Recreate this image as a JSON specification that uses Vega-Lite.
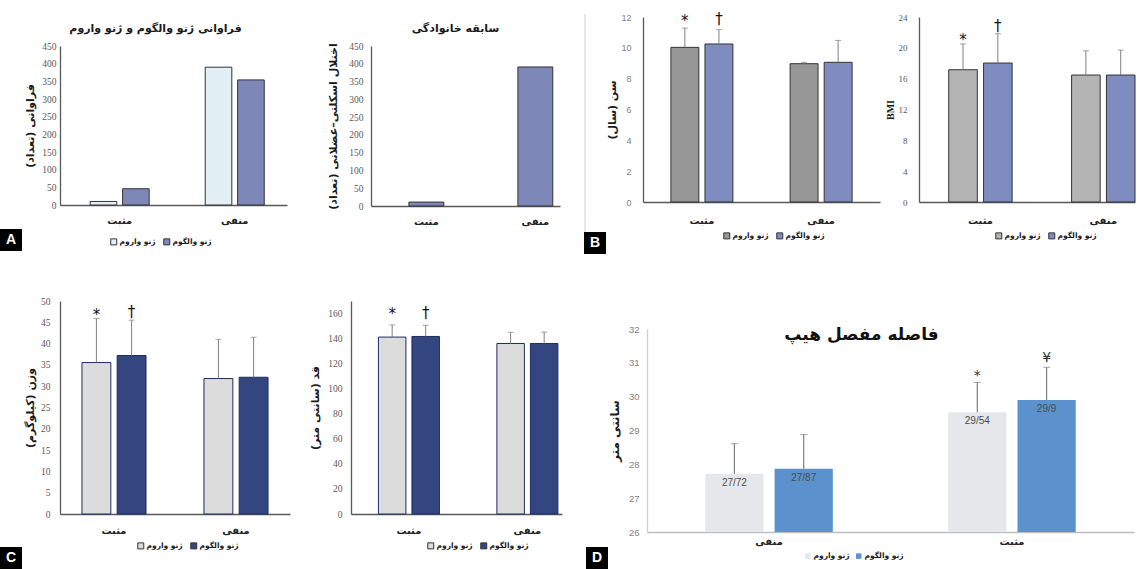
{
"$schema": "https://vega.github.io/schema/vega-lite/v6.json",
"padding": {"left": 0, "top": 12, "right": 0, "bottom": 0},
"background": "white",
"spacing": 42,
"align": "none",
"resolve": {"scale": {"color": "independent", "xOffset": "independent"}, "legend": {"color": "independent"}},
"config": {
  "view": {"stroke": null},
  "font": "DejaVu Sans",
  "axis": {"grid": false, "ticks": false, "domainColor": "#595959", "domainWidth": 1.3, "labelColor": "#595959", "titleColor": "#1a1a1a", "titleFont": "DejaVu Sans", "titleFontWeight": "bold", "titleFontSize": 11},
  "axisX": {"labelAngle": 0, "labelFont": "DejaVu Sans", "labelFontWeight": "bold", "labelFontSize": 10, "labelColor": "#222222"},
  "legend": {"labelFont": "DejaVu Sans", "labelFontWeight": "bold", "labelFontSize": 7.5, "labelColor": "#1a1a1a", "symbolType": "square", "symbolSize": 36, "symbolStrokeColor": "#333333", "symbolStrokeWidth": 1, "columnPadding": 5, "labelOffset": 2, "padding": 0}
},
"vconcat": [
 {"spacing": 24, "align": "none", "resolve": {"scale": {"color": "independent", "xOffset": "independent"}, "legend": {"color": "independent"}}, "hconcat": [
  {"spacing": 5, "align": "none", "resolve": {"scale": {"color": "independent", "xOffset": "independent"}, "legend": {"color": "independent"}}, "vconcat": [
   {"width": 1, "height": 1, "data": {"values": [{"a": 1}]}, "mark": {"type": "point", "opacity": 0, "size": 1}},
   {"spacing": 40, "align": "none", "resolve": {"scale": {"color": "independent", "xOffset": "independent"}, "legend": {"color": "independent"}}, "hconcat": [
    {"spacing": 2, "align": "none", "resolve": {"scale": {"color": "independent", "xOffset": "independent"}, "legend": {"color": "independent"}}, "hconcat": [
     {"width": 22, "height": 205,
      "data": {"values": [{"letter": "A", "y0": 0, "y1": 22, "ym": 11}]},
      "layer": [
       {"mark": {"type": "rect", "color": "#000000"}, "encoding": {"y": {"field": "y0", "type": "quantitative", "scale": {"domain": [0, 205], "nice": false}, "axis": null}, "y2": {"field": "y1"}}},
       {"mark": {"type": "text", "color": "#ffffff", "fontSize": 14, "fontWeight": "bold", "font": "Liberation Sans", "baseline": "middle", "align": "center"}, "encoding": {"y": {"field": "ym", "type": "quantitative", "scale": {"domain": [0, 205], "nice": false}, "axis": null}, "text": {"field": "letter"}}}
      ]},
     {"width": 227, "height": 159,
      "title": {"text": "فراوانی ژنو والگوم و ژنو واروم", "fontSize": 11, "offset": 7, "font": "DejaVu Sans", "fontWeight": "bold", "color": "#1a1a1a", "dx": -18},
      "data": {"values": [
       {"group": "مثبت", "type": "ژنو واروم", "value": 10},
       {"group": "مثبت", "type": "ژنو والگوم", "value": 46},
       {"group": "منفی", "type": "ژنو واروم", "value": 390},
       {"group": "منفی", "type": "ژنو والگوم", "value": 354}
      ]},
      "mark": {"type": "bar", "stroke": "#333333", "strokeWidth": 1},
      "encoding": {
       "x": {"field": "group", "type": "nominal", "sort": ["مثبت", "منفی"], "title": null, "scale": {"paddingInner": 0.487, "paddingOuter": 0.23, "align": 0.57}, "axis": {"labelPadding": 10}},
       "xOffset": {"field": "type", "type": "nominal", "sort": ["ژنو واروم", "ژنو والگوم"], "scale": {"paddingInner": 0.18, "paddingOuter": 0}},
       "y": {"field": "value", "type": "quantitative", "title": "\u200fفراوانی (تعداد)\u200f", "scale": {"domain": [0, 450], "nice": false}, "axis": {"values": [0, 50, 100, 150, 200, 250, 300, 350, 400, 450], "labelFont": "Liberation Serif", "labelFontSize": 9.5, "labelPadding": 4, "titlePadding": 6}},
       "color": {"field": "type", "type": "nominal", "scale": {"domain": ["ژنو واروم", "ژنو والگوم"], "range": ["#e2f0f6", "#7d88b9"]}, "legend": {"orient": "none", "legendX": 50, "legendY": 192, "direction": "horizontal", "title": null, "symbolStrokeColor": "#333333", "symbolStrokeWidth": 1}}
      }}
    ]},
    {"width": 189, "height": 160,
     "title": {"text": "سابقه خانوادگی", "fontSize": 11, "offset": 7, "font": "DejaVu Sans", "fontWeight": "bold", "color": "#1a1a1a", "dx": -10},
     "data": {"values": [
      {"group": "مثبت", "value": 11},
      {"group": "منفی", "value": 391}
     ]},
     "mark": {"type": "bar", "stroke": "#333333", "strokeWidth": 1, "color": "#7d88b9"},
     "encoding": {
      "x": {"field": "group", "type": "nominal", "sort": ["مثبت", "منفی"], "title": null, "scale": {"paddingInner": 0.68, "paddingOuter": 0.207, "align": 0.84}, "axis": {"labelPadding": 10}},
      "y": {"field": "value", "type": "quantitative", "title": "\u200fاختلال اسکلتی–عضلانی (تعداد)\u200f", "scale": {"domain": [0, 450], "nice": false}, "axis": {"values": [0, 50, 100, 150, 200, 250, 300, 350, 400, 450], "labelFont": "Liberation Serif", "labelFontSize": 9.5, "labelPadding": 8, "titlePadding": 10}}
     }}
   ]}
  ]},
  {"spacing": 5, "align": "none", "resolve": {"scale": {"color": "independent", "xOffset": "independent"}, "legend": {"color": "independent"}}, "hconcat": [
   {"spacing": 0, "align": "none", "resolve": {"scale": {"color": "independent", "xOffset": "independent"}, "legend": {"color": "independent"}}, "hconcat": [
    {"width": 22, "height": 237,
     "data": {"values": [{"letter": "B", "y0": 0, "y1": 22, "ym": 11}]},
     "layer": [
      {"mark": {"type": "rule", "color": "#d0d0d0", "strokeWidth": 1}, "encoding": {"x": {"datum": 1, "type": "quantitative", "scale": {"domain": [0, 22], "nice": false}, "axis": null}, "y": {"datum": 22, "type": "quantitative", "scale": {"domain": [0, 237], "nice": false}, "axis": null}, "y2": {"datum": 240}}},
      {"mark": {"type": "rect", "color": "#000000"}, "encoding": {"y": {"field": "y0", "type": "quantitative", "scale": {"domain": [0, 237], "nice": false}, "axis": null}, "y2": {"field": "y1"}}},
      {"mark": {"type": "text", "color": "#ffffff", "fontSize": 14, "fontWeight": "bold", "font": "Liberation Sans", "baseline": "middle", "align": "center"}, "encoding": {"y": {"field": "ym", "type": "quantitative", "scale": {"domain": [0, 237], "nice": false}, "axis": null}, "text": {"field": "letter"}}}
     ]},
    {"width": 237, "height": 185,
     "data": {"values": [
      {"group": "مثبت", "type": "ژنو واروم", "value": 10.03, "err": 11.28, "mark": "*", "markY": 11.72},
      {"group": "مثبت", "type": "ژنو والگوم", "value": 10.25, "err": 11.18, "mark": "†", "markY": 11.85},
      {"group": "منفی", "type": "ژنو واروم", "value": 8.97, "err": 9.06},
      {"group": "منفی", "type": "ژنو والگوم", "value": 9.06, "err": 10.48}
     ]},
     "encoding": {
      "x": {"field": "group", "type": "nominal", "sort": ["مثبت", "منفی"], "title": null, "scale": {"paddingInner": 0.48, "paddingOuter": 0.234}, "axis": {"labelPadding": 13}},
      "xOffset": {"field": "type", "type": "nominal", "sort": ["ژنو واروم", "ژنو والگوم"], "scale": {"paddingInner": 0.18, "paddingOuter": 0}}
     },
     "layer": [
      {"mark": {"type": "bar", "stroke": "#333333", "strokeWidth": 1},
       "encoding": {
        "y": {"field": "value", "type": "quantitative", "title": "\u200fسن (سال)\u200f", "scale": {"domain": [0, 12], "nice": false}, "axis": {"values": [0, 2, 4, 6, 8, 10, 12], "labelFont": "Liberation Sans", "labelFontSize": 9, "labelColor": "#7f7f7f", "labelPadding": 12, "titlePadding": 3}},
        "color": {"field": "type", "type": "nominal", "scale": {"domain": ["ژنو واروم", "ژنو والگوم"], "range": ["#979797", "#7f8cc0"]}, "legend": {"orient": "none", "legendX": 80, "legendY": 215, "direction": "horizontal", "title": null, "symbolStrokeColor": "#333333", "symbolStrokeWidth": 1}}
       }},
      {"mark": {"type": "rule", "color": "#808080", "strokeWidth": 1}, "encoding": {"y": {"field": "value", "type": "quantitative", "title": "\u200fسن (سال)\u200f", "scale": {"domain": [0, 12], "nice": false}, "axis": {"values": [0, 2, 4, 6, 8, 10, 12], "labelFont": "Liberation Sans", "labelFontSize": 9, "labelColor": "#7f7f7f", "labelPadding": 12, "titlePadding": 3}}, "y2": {"field": "err"}}},
      {"mark": {"type": "tick", "color": "#808080", "size": 6, "thickness": 1}, "encoding": {"y": {"field": "err", "type": "quantitative", "title": "\u200fسن (سال)\u200f", "scale": {"domain": [0, 12], "nice": false}, "axis": {"values": [0, 2, 4, 6, 8, 10, 12], "labelFont": "Liberation Sans", "labelFontSize": 9, "labelColor": "#7f7f7f", "labelPadding": 12, "titlePadding": 3}}}},
      {"transform": [{"filter": "datum.mark != null"}], "mark": {"type": "text", "fontSize": 15, "color": "#111111", "baseline": "middle"}, "encoding": {"y": {"field": "markY", "type": "quantitative", "title": "\u200fسن (سال)\u200f", "scale": {"domain": [0, 12], "nice": false}, "axis": {"values": [0, 2, 4, 6, 8, 10, 12], "labelFont": "Liberation Sans", "labelFontSize": 9, "labelColor": "#7f7f7f", "labelPadding": 12, "titlePadding": 3}}, "text": {"field": "mark"}}}
     ]}
   ]},
   {"width": 216, "height": 185,
    "data": {"values": [
     {"group": "مثبت", "type": "ژنو واروم", "value": 17.16, "err": 20.5, "mark": "*", "markY": 21.0},
     {"group": "مثبت", "type": "ژنو والگوم", "value": 18.03, "err": 21.83, "mark": "†", "markY": 22.8},
     {"group": "منفی", "type": "ژنو واروم", "value": 16.47, "err": 19.62},
     {"group": "منفی", "type": "ژنو والگوم", "value": 16.47, "err": 19.7}
    ]},
    "encoding": {
     "x": {"field": "group", "type": "nominal", "sort": ["مثبت", "منفی"], "title": null, "scale": {"paddingInner": 0.484, "paddingOuter": 0.121, "align": 1}, "axis": {"labelPadding": 13}},
     "xOffset": {"field": "type", "type": "nominal", "sort": ["ژنو واروم", "ژنو والگوم"], "scale": {"paddingInner": 0.18, "paddingOuter": 0}}
    },
    "layer": [
     {"mark": {"type": "bar", "stroke": "#333333", "strokeWidth": 1},
      "encoding": {
       "y": {"field": "value", "type": "quantitative", "title": "BMI", "scale": {"domain": [0, 24], "nice": false}, "axis": {"values": [0, 4, 8, 12, 16, 20, 24], "labelFont": "Liberation Serif", "labelFontSize": 9, "labelPadding": 12, "titlePadding": 3, "titleFont": "Liberation Serif", "titleFontSize": 10}},
       "color": {"field": "type", "type": "nominal", "scale": {"domain": ["ژنو واروم", "ژنو والگوم"], "range": ["#b4b4b4", "#7f8cc0"]}, "legend": {"orient": "none", "legendX": 76, "legendY": 215, "direction": "horizontal", "title": null, "symbolStrokeColor": "#333333", "symbolStrokeWidth": 1}}
      }},
     {"mark": {"type": "rule", "color": "#808080", "strokeWidth": 1}, "encoding": {"y": {"field": "value", "type": "quantitative", "title": "BMI", "scale": {"domain": [0, 24], "nice": false}, "axis": {"values": [0, 4, 8, 12, 16, 20, 24], "labelFont": "Liberation Serif", "labelFontSize": 9, "labelPadding": 12, "titlePadding": 3, "titleFont": "Liberation Serif", "titleFontSize": 10}}, "y2": {"field": "err"}}},
     {"mark": {"type": "tick", "color": "#808080", "size": 6, "thickness": 1}, "encoding": {"y": {"field": "err", "type": "quantitative", "title": "BMI", "scale": {"domain": [0, 24], "nice": false}, "axis": {"values": [0, 4, 8, 12, 16, 20, 24], "labelFont": "Liberation Serif", "labelFontSize": 9, "labelPadding": 12, "titlePadding": 3, "titleFont": "Liberation Serif", "titleFontSize": 10}}}},
     {"transform": [{"filter": "datum.mark != null"}], "mark": {"type": "text", "fontSize": 15, "color": "#111111", "baseline": "middle"}, "encoding": {"y": {"field": "markY", "type": "quantitative", "title": "BMI", "scale": {"domain": [0, 24], "nice": false}, "axis": {"values": [0, 4, 8, 12, 16, 20, 24], "labelFont": "Liberation Serif", "labelFontSize": 9, "labelPadding": 12, "titlePadding": 3, "titleFont": "Liberation Serif", "titleFontSize": 10}}, "text": {"field": "mark"}}}
    ]}
  ]}
 ]},
 {"spacing": 24, "align": "none", "resolve": {"scale": {"color": "independent", "xOffset": "independent"}, "legend": {"color": "independent"}}, "hconcat": [
  {"spacing": 19, "align": "none", "resolve": {"scale": {"color": "independent", "xOffset": "independent"}, "legend": {"color": "independent"}}, "hconcat": [
   {"spacing": 2, "align": "none", "resolve": {"scale": {"color": "independent", "xOffset": "independent"}, "legend": {"color": "independent"}}, "hconcat": [
    {"width": 22, "height": 268,
     "data": {"values": [{"letter": "C", "y0": 0, "y1": 22, "ym": 11}]},
     "layer": [
      {"mark": {"type": "rect", "color": "#000000"}, "encoding": {"y": {"field": "y0", "type": "quantitative", "scale": {"domain": [0, 268], "nice": false}, "axis": null}, "y2": {"field": "y1"}}},
      {"mark": {"type": "text", "color": "#ffffff", "fontSize": 14, "fontWeight": "bold", "font": "Liberation Sans", "baseline": "middle", "align": "center"}, "encoding": {"y": {"field": "ym", "type": "quantitative", "scale": {"domain": [0, 268], "nice": false}, "axis": null}, "text": {"field": "letter"}}}
     ]},
    {"width": 230, "height": 213,
     "data": {"values": [
      {"group": "مثبت", "type": "ژنو واروم", "value": 35.55, "err": 45.9, "mark": "*", "markY": 46.6},
      {"group": "مثبت", "type": "ژنو والگوم", "value": 37.2, "err": 45.5, "mark": "†", "markY": 47.5},
      {"group": "منفی", "type": "ژنو واروم", "value": 31.8, "err": 41.0},
      {"group": "منفی", "type": "ژنو والگوم", "value": 32.1, "err": 41.5}
     ]},
     "encoding": {
      "x": {"field": "group", "type": "nominal", "sort": ["مثبت", "منفی"], "title": null, "scale": {"paddingInner": 0.475, "paddingOuter": 0.18}, "axis": {"labelPadding": 11}},
      "xOffset": {"field": "type", "type": "nominal", "sort": ["ژنو واروم", "ژنو والگوم"], "scale": {"paddingInner": 0.18, "paddingOuter": 0}}
     },
     "layer": [
      {"mark": {"type": "bar", "stroke": "#1f2d5c", "strokeWidth": 1},
       "encoding": {
        "y": {"field": "value", "type": "quantitative", "title": "\u200fوزن (کیلوگرم)\u200f", "scale": {"domain": [0, 50], "nice": false}, "axis": {"values": [0, 5, 10, 15, 20, 25, 30, 35, 40, 45, 50], "labelFont": "Liberation Serif", "labelFontSize": 9.5, "labelPadding": 10, "titlePadding": 5}},
        "color": {"field": "type", "type": "nominal", "scale": {"domain": ["ژنو واروم", "ژنو والگوم"], "range": ["#dcdcdc", "#34467f"]}, "legend": {"orient": "none", "legendX": 77, "legendY": 241, "direction": "horizontal", "title": null, "symbolStrokeColor": "#333333", "symbolStrokeWidth": 1}}
       }},
      {"mark": {"type": "rule", "color": "#808080", "strokeWidth": 1}, "encoding": {"y": {"field": "value", "type": "quantitative", "title": "\u200fوزن (کیلوگرم)\u200f", "scale": {"domain": [0, 50], "nice": false}, "axis": {"values": [0, 5, 10, 15, 20, 25, 30, 35, 40, 45, 50], "labelFont": "Liberation Serif", "labelFontSize": 9.5, "labelPadding": 10, "titlePadding": 5}}, "y2": {"field": "err"}}},
      {"mark": {"type": "tick", "color": "#808080", "size": 6, "thickness": 1}, "encoding": {"y": {"field": "err", "type": "quantitative", "title": "\u200fوزن (کیلوگرم)\u200f", "scale": {"domain": [0, 50], "nice": false}, "axis": {"values": [0, 5, 10, 15, 20, 25, 30, 35, 40, 45, 50], "labelFont": "Liberation Serif", "labelFontSize": 9.5, "labelPadding": 10, "titlePadding": 5}}}},
      {"transform": [{"filter": "datum.mark != null"}], "mark": {"type": "text", "fontSize": 15, "color": "#111111", "baseline": "middle"}, "encoding": {"y": {"field": "markY", "type": "quantitative", "title": "\u200fوزن (کیلوگرم)\u200f", "scale": {"domain": [0, 50], "nice": false}, "axis": {"values": [0, 5, 10, 15, 20, 25, 30, 35, 40, 45, 50], "labelFont": "Liberation Serif", "labelFontSize": 9.5, "labelPadding": 10, "titlePadding": 5}}, "text": {"field": "mark"}}}
     ]}
   ]},
   {"width": 211, "height": 213,
    "data": {"values": [
     {"group": "مثبت", "type": "ژنو واروم", "value": 141.2, "err": 150.9, "mark": "*", "markY": 160.0},
     {"group": "مثبت", "type": "ژنو والگوم", "value": 141.7, "err": 150.6, "mark": "†", "markY": 160.5},
     {"group": "منفی", "type": "ژنو واروم", "value": 136.1, "err": 145.0},
     {"group": "منفی", "type": "ژنو والگوم", "value": 136.1, "err": 145.2}
    ]},
    "encoding": {
     "x": {"field": "group", "type": "nominal", "sort": ["مثبت", "منفی"], "title": null, "scale": {"paddingInner": 0.485, "paddingOuter": 0.133, "align": 0.87}, "axis": {"labelPadding": 11}},
     "xOffset": {"field": "type", "type": "nominal", "sort": ["ژنو واروم", "ژنو والگوم"], "scale": {"paddingInner": 0.18, "paddingOuter": 0}}
    },
    "layer": [
     {"mark": {"type": "bar", "stroke": "#1f2d5c", "strokeWidth": 1},
      "encoding": {
       "y": {"field": "value", "type": "quantitative", "title": "\u200fقد (سانتی متر)\u200f", "scale": {"domain": [0, 170], "nice": false}, "axis": {"values": [0, 20, 40, 60, 80, 100, 120, 140, 160], "labelFont": "Liberation Serif", "labelFontSize": 9.5, "labelPadding": 9, "titlePadding": 7}},
       "color": {"field": "type", "type": "nominal", "scale": {"domain": ["ژنو واروم", "ژنو والگوم"], "range": ["#dcdcdc", "#34467f"]}, "legend": {"orient": "none", "legendX": 76, "legendY": 241, "direction": "horizontal", "title": null, "symbolStrokeColor": "#333333", "symbolStrokeWidth": 1}}
      }},
     {"mark": {"type": "rule", "color": "#808080", "strokeWidth": 1}, "encoding": {"y": {"field": "value", "type": "quantitative", "title": "\u200fقد (سانتی متر)\u200f", "scale": {"domain": [0, 170], "nice": false}, "axis": {"values": [0, 20, 40, 60, 80, 100, 120, 140, 160], "labelFont": "Liberation Serif", "labelFontSize": 9.5, "labelPadding": 9, "titlePadding": 7}}, "y2": {"field": "err"}}},
     {"mark": {"type": "tick", "color": "#808080", "size": 6, "thickness": 1}, "encoding": {"y": {"field": "err", "type": "quantitative", "title": "\u200fقد (سانتی متر)\u200f", "scale": {"domain": [0, 170], "nice": false}, "axis": {"values": [0, 20, 40, 60, 80, 100, 120, 140, 160], "labelFont": "Liberation Serif", "labelFontSize": 9.5, "labelPadding": 9, "titlePadding": 7}}}},
     {"transform": [{"filter": "datum.mark != null"}], "mark": {"type": "text", "fontSize": 15, "color": "#111111", "baseline": "middle"}, "encoding": {"y": {"field": "markY", "type": "quantitative", "title": "\u200fقد (سانتی متر)\u200f", "scale": {"domain": [0, 170], "nice": false}, "axis": {"values": [0, 20, 40, 60, 80, 100, 120, 140, 160], "labelFont": "Liberation Serif", "labelFontSize": 9.5, "labelPadding": 9, "titlePadding": 7}}, "text": {"field": "mark"}}}
    ]}
  ]},
  {"spacing": 22, "align": "none", "resolve": {"scale": {"color": "independent", "xOffset": "independent"}, "legend": {"color": "independent"}}, "vconcat": [
   {"width": 1, "height": 1, "data": {"values": [{"a": 1}]}, "mark": {"type": "point", "opacity": 0, "size": 1}},
   {"spacing": 0, "align": "none", "resolve": {"scale": {"color": "independent", "xOffset": "independent"}, "legend": {"color": "independent"}}, "hconcat": [
    {"width": 22, "height": 240,
     "data": {"values": [{"letter": "D", "y0": 0, "y1": 22, "ym": 11}]},
     "layer": [
      {"mark": {"type": "rect", "color": "#000000"}, "encoding": {"y": {"field": "y0", "type": "quantitative", "scale": {"domain": [0, 240], "nice": false}, "axis": null}, "y2": {"field": "y1"}}},
      {"mark": {"type": "text", "color": "#ffffff", "fontSize": 14, "fontWeight": "bold", "font": "Liberation Sans", "baseline": "middle", "align": "center"}, "encoding": {"y": {"field": "ym", "type": "quantitative", "scale": {"domain": [0, 240], "nice": false}, "axis": null}, "text": {"field": "letter"}}}
     ]},
    {"width": 487, "height": 203,
     "title": {"text": "فاصله مفصل هیپ", "fontSize": 17, "offset": -20, "font": "DejaVu Sans", "fontWeight": "bold", "color": "#111111", "dx": -29},
     "data": {"values": [
      {"group": "منفی", "type": "ژنو واروم", "value": 27.72, "err": 28.61, "label": "27/72"},
      {"group": "منفی", "type": "ژنو والگوم", "value": 27.87, "err": 28.88, "label": "27/87"},
      {"group": "مثبت", "type": "ژنو واروم", "value": 29.54, "err": 30.42, "label": "29/54", "mark": "*", "markY": 30.62},
      {"group": "مثبت", "type": "ژنو والگوم", "value": 29.9, "err": 30.87, "label": "29/9", "mark": "¥", "markY": 31.14}
     ]},
     "encoding": {
      "x": {"field": "group", "type": "nominal", "sort": ["منفی", "مثبت"], "title": null, "scale": {"paddingInner": 0.475, "paddingOuter": 0.24}, "axis": {"labelPadding": 4, "domainColor": "#bfbfbf", "domainWidth": 1.5}},
      "xOffset": {"field": "type", "type": "nominal", "sort": ["ژنو واروم", "ژنو والگوم"], "scale": {"paddingInner": 0.16, "paddingOuter": 0}}
     },
     "layer": [
      {"mark": {"type": "bar"},
       "encoding": {
        "y": {"field": "value", "type": "quantitative", "title": "سانتی متر", "scale": {"domain": [26, 32], "nice": false, "zero": false}, "axis": {"values": [26, 27, 28, 29, 30, 31, 32], "labelFont": "Liberation Sans", "labelFontSize": 9.5, "labelColor": "#7f7f7f", "labelPadding": 8, "titlePadding": 7, "titleFontSize": 12, "domainColor": "#d0d0d0", "domainWidth": 1.3}},
        "y2": {"datum": 26},
        "color": {"field": "type", "type": "nominal", "scale": {"domain": ["ژنو واروم", "ژنو والگوم"], "range": ["#e5e7eb", "#5b91cd"]}, "legend": {"orient": "none", "legendX": 157, "legendY": 223, "direction": "horizontal", "title": null, "symbolStrokeWidth": 0, "symbolSize": 30}}
       }},
      {"mark": {"type": "rule", "color": "#7f7f7f", "strokeWidth": 1.2}, "encoding": {"y": {"field": "value", "type": "quantitative", "title": "سانتی متر", "scale": {"domain": [26, 32], "nice": false, "zero": false}, "axis": {"values": [26, 27, 28, 29, 30, 31, 32], "labelFont": "Liberation Sans", "labelFontSize": 9.5, "labelColor": "#7f7f7f", "labelPadding": 8, "titlePadding": 7, "titleFontSize": 12, "domainColor": "#d0d0d0", "domainWidth": 1.3}}, "y2": {"field": "err"}}},
      {"mark": {"type": "tick", "color": "#7f7f7f", "size": 7, "thickness": 1}, "encoding": {"y": {"field": "err", "type": "quantitative", "title": "سانتی متر", "scale": {"domain": [26, 32], "nice": false, "zero": false}, "axis": {"values": [26, 27, 28, 29, 30, 31, 32], "labelFont": "Liberation Sans", "labelFontSize": 9.5, "labelColor": "#7f7f7f", "labelPadding": 8, "titlePadding": 7, "titleFontSize": 12, "domainColor": "#d0d0d0", "domainWidth": 1.3}}}},
      {"mark": {"type": "text", "fontSize": 10, "color": "#4d4d4d", "baseline": "middle", "dy": 9, "font": "Liberation Sans"}, "encoding": {"y": {"field": "value", "type": "quantitative", "title": "سانتی متر", "scale": {"domain": [26, 32], "nice": false, "zero": false}, "axis": {"values": [26, 27, 28, 29, 30, 31, 32], "labelFont": "Liberation Sans", "labelFontSize": 9.5, "labelColor": "#7f7f7f", "labelPadding": 8, "titlePadding": 7, "titleFontSize": 12, "domainColor": "#d0d0d0", "domainWidth": 1.3}}, "text": {"field": "label"}}},
      {"transform": [{"filter": "datum.mark != null"}], "mark": {"type": "text", "fontSize": 14, "color": "#333333", "baseline": "middle"}, "encoding": {"y": {"field": "markY", "type": "quantitative", "title": "سانتی متر", "scale": {"domain": [26, 32], "nice": false, "zero": false}, "axis": {"values": [26, 27, 28, 29, 30, 31, 32], "labelFont": "Liberation Sans", "labelFontSize": 9.5, "labelColor": "#7f7f7f", "labelPadding": 8, "titlePadding": 7, "titleFontSize": 12, "domainColor": "#d0d0d0", "domainWidth": 1.3}}, "text": {"field": "mark"}}}
     ]}
   ]}
  ]}
 ]}
]
}
